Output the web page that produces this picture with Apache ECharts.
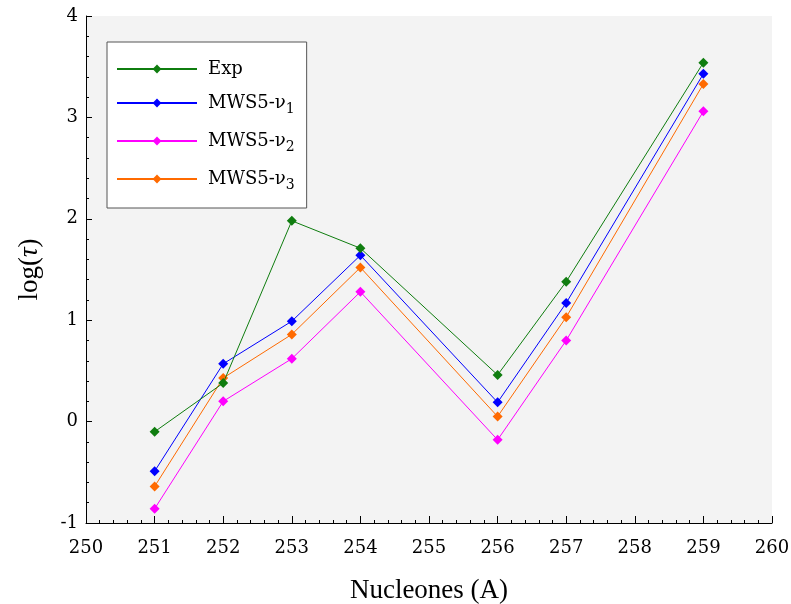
<!DOCTYPE html>
<html>
<head>
<meta charset="utf-8">
<script src="https://cdn.jsdelivr.net/npm/echarts@6/dist/echarts.min.js"></script>
<style>html,body{margin:0;padding:0;background:#fff}#c{width:791px;height:604px}</style>
</head>
<body>
<div id="c"></div>
<script>
var nucleons = [251, 252, 253, 254, 256, 257, 259];
var expVals  = [-0.10, 0.38, 1.98, 1.71, 0.46, 1.38, 3.54];
var mws1Vals = [-0.49, 0.57, 0.99, 1.64, 0.19, 1.17, 3.43];
var mws2Vals = [-0.86, 0.20, 0.62, 1.28, -0.18, 0.80, 3.06];
var mws3Vals = [-0.64, 0.43, 0.86, 1.52, 0.05, 1.03, 3.33];
var seriesNames = ['Exp', 'MWS5-ν1', 'MWS5-ν2', 'MWS5-ν3'];
var seriesColors = ['#0f7d0f', '#0000ff', '#ff00ff', '#ff6a00'];
var xTicks = [250, 251, 252, 253, 254, 255, 256, 257, 258, 259, 260];
var yTicks = [-1, 0, 1, 2, 3, 4];

function pairs(vals){ return nucleons.map(function(x,i){ return [x, vals[i]]; }); }
var allVals = [expVals, mws1Vals, mws2Vals, mws3Vals];

var chart = echarts.init(document.getElementById('c'), null, {renderer:'canvas'});
var serif = 'DejaVu Serif';
var option = {
  animation: false,
  backgroundColor: '#fff',
  grid: {left: 86, right: 19, top: 16, bottom: 81, show: true, backgroundColor: '#f3f3f3', borderWidth: 0,
         containLabel: false, outerBoundsMode: 'none'},
  legend: {
    orient: 'vertical', left: 107, top: 42,
    backgroundColor: '#fff', borderColor: '#555', borderWidth: 1,
    padding: [18, 12, 16, 9], itemGap: 16, itemWidth: 80, itemHeight: 11,
    data: seriesNames,
    textStyle: {
      fontFamily: serif, fontSize: 18, color: '#000',
      rich: {
        m: {fontFamily: serif, fontSize: 18, color: '#000', padding: [0, 0, 0, 6]},
        s: {fontFamily: serif, fontSize: 14, color: '#000', verticalAlign: 'bottom', padding: [12, 0, 0, 0]}
      }
    },
    formatter: function(n){
      var m = n.match(/^(.*ν)(\d)$/);
      if (m) return '{m|' + m[1] + '}{s|' + m[2] + '}';
      return '{m|' + n + '}';
    }
  },
  xAxis: {
    type: 'value', min: 250, max: 260, interval: 1,
    name: 'Nucleones (A)', nameLocation: 'middle', nameGap: 54,
    nameTextStyle: {fontFamily: 'Liberation Serif', fontSize: 27, color: '#000'},
    axisLine: {show: true, onZero: false, lineStyle: {color: '#000', width: 1}},
    axisTick: {show: true, inside: true, length: 7, lineStyle: {color: '#000'}},
    minorTick: {show: true, splitNumber: 5, length: 3, lineStyle: {color: '#000'}},
    axisLabel: {fontFamily: serif, fontSize: 18, color: '#000', margin: 16,
      formatter: function(v){ return xTicks.indexOf(v) >= 0 ? String(v) : ''; }},
    splitLine: {show: false}
  },
  yAxis: {
    type: 'value', min: -1, max: 4, interval: 1,
    name: 'log({t|τ})', nameLocation: 'middle', nameGap: 43,
    nameTextStyle: {fontFamily: 'Liberation Serif', fontSize: 27, color: '#000',
      rich: {t: {fontFamily: 'Liberation Serif', fontStyle: 'italic', fontSize: 27, color: '#000'}}},
    axisLine: {show: true, onZero: false, lineStyle: {color: '#000', width: 1}},
    axisTick: {show: true, inside: true, length: 6, lineStyle: {color: '#000'}},
    minorTick: {show: true, splitNumber: 5, length: 3, lineStyle: {color: '#000'}},
    axisLabel: {fontFamily: serif, fontSize: 18, color: '#000', margin: 8,
      formatter: function(v){ return yTicks.indexOf(v) >= 0 ? String(v) : ''; }},
    splitLine: {show: false}
  },
  series: seriesNames.map(function(n, i){
    return {
      name: n, type: 'line', data: pairs(allVals[i]),
      symbol: 'diamond', symbolSize: 10, showSymbol: true,
      lineStyle: {color: seriesColors[i], width: 1},
      itemStyle: {color: seriesColors[i]},
      z: 4 - i
    };
  })
};
chart.setOption(option);
</script>
</body>
</html>
